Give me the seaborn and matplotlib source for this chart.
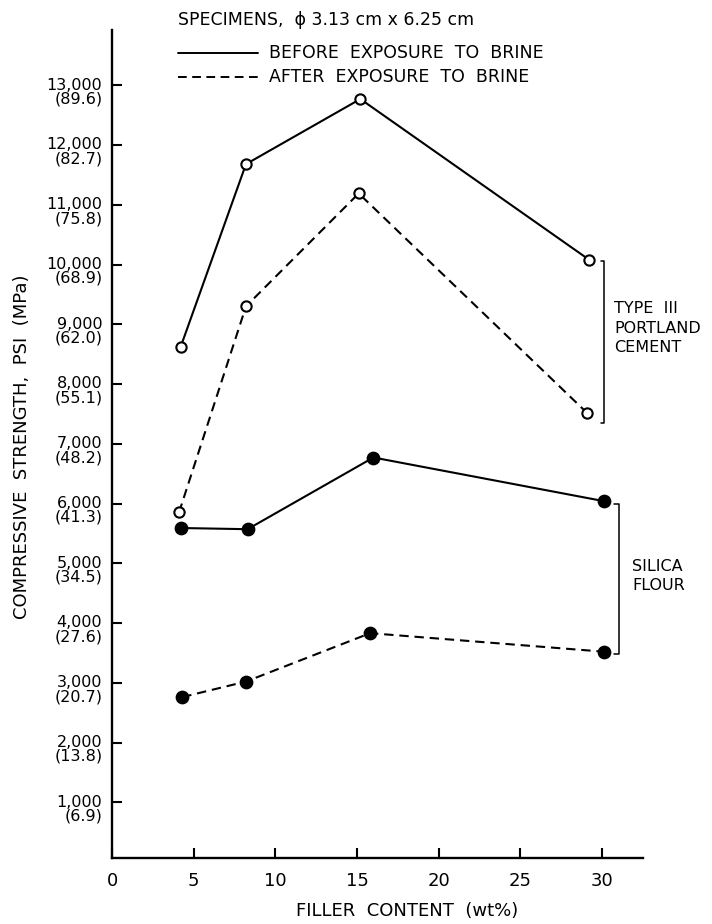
import numpy as np
import pandas as pd
import matplotlib
matplotlib.use("Agg")
import matplotlib.pyplot as plt
import matplotlib.transforms as mtransforms
from matplotlib.lines import Line2D
import seaborn as sns

# ---------------- data ----------------
pc_before_x = [4.2, 8.2, 15.2, 29.2]
pc_before_y = [8620, 11680, 12770, 10080]
pc_after_x = [4.1, 8.2, 15.1, 29.1]
pc_after_y = [5850, 9300, 11190, 7510]
sf_before_x = [4.2, 8.3, 16.0, 30.1]
sf_before_y = [5590, 5570, 6770, 6040]
sf_after_x = [4.3, 8.2, 15.8, 30.1]
sf_after_y = [2760, 3020, 3830, 3520]

x_ticks = [0, 5, 10, 15, 20, 25, 30]
y_ticks = [1000, 2000, 3000, 4000, 5000, 6000, 7000, 8000, 9000, 10000, 11000, 12000, 13000]
y_tick_psi = ["1,000", "2,000", "3,000", "4,000", "5,000", "6,000", "7,000",
              "8,000", "9,000", "10,000", "11,000", "12,000", "13,000"]
y_tick_mpa = ["6.9", "13.8", "20.7", "27.6", "34.5", "41.3", "48.2",
              "55.1", "62.0", "68.9", "75.8", "82.7", "89.6"]

legend_title = "SPECIMENS,  ϕ 3.13 cm x 6.25 cm"
legend_labels = ["BEFORE  EXPOSURE  TO  BRINE", "AFTER  EXPOSURE  TO  BRINE"]
group_labels = ["TYPE  III\nPORTLAND\nCEMENT", "SILICA\nFLOUR"]

# ---------------- styling ----------------
sns.set_style("ticks")
plt.rcParams["font.family"] = ["DejaVu Sans"]
for k in ("text.color", "axes.labelcolor", "xtick.color", "ytick.color", "axes.edgecolor"):
    plt.rcParams[k] = "black"
FS = 12

W, H = 712, 924
fig = plt.figure(figsize=(W / 100, H / 100), dpi=100)
L, R, B, T = 112, 643, 858, 30
ax = fig.add_axes([L / W, 1 - B / H, (R - L) / W, (B - T) / H])

DASH = (0, (4.5, 2.8))
series = [
    (pc_before_x, pc_before_y, "-", "white", 7.4),
    (pc_after_x, pc_after_y, DASH, "white", 7.4),
    (sf_before_x, sf_before_y, "-", "black", 8.4),
    (sf_after_x, sf_after_y, DASH, "black", 8.4),
]
for xs, ys, ls, fc, ms in series:
    df = pd.DataFrame({"x": xs, "y": ys})
    sns.lineplot(data=df, x="x", y="y", ax=ax, color="black", lw=1.5,
                 linestyle=ls, marker="o", markersize=ms,
                 markerfacecolor=fc, markeredgecolor="black",
                 markeredgewidth=1.5, sort=False, estimator=None)

ax.set_xlim(0.15, 32.5)
ax.set_ylim(67, 13925)
sns.despine(ax=ax)
for s in ("left", "bottom"):
    ax.spines[s].set_linewidth(1.7)

ax.set_xticks(x_ticks)
ax.set_xticklabels([str(v) for v in x_ticks], fontsize=FS + 1)
ax.set_yticks(y_ticks)
ax.set_yticklabels([f"{p}\n({m})" for p, m in zip(y_tick_psi, y_tick_mpa)],
                   fontsize=FS - 0.5, linespacing=0.92)
ax.tick_params(axis="both", direction="in", length=7, width=1.5, color="black")
ax.tick_params(axis="y", pad=7)
ax.tick_params(axis="x", pad=10)
off = mtransforms.ScaledTranslation(0, 5.5 / 72, fig.dpi_scale_trans)
for lab in ax.get_yticklabels():
    lab.set_va("top")
    lab.set_transform(lab.get_transform() + off)

ax.set_xlabel("FILLER  CONTENT  (wt%)", fontsize=FS + 1)
ax.xaxis.set_label_coords((407 - L) / (R - L), (B - 902) / (B - T))
ax.set_ylabel("COMPRESSIVE  STRENGTH,  PSI  (MPa)", fontsize=FS + 1)
ax.yaxis.set_label_coords((31 - L) / (R - L), (B - 447) / (B - T))

# ---------------- group brackets ----------------
def bracket(x, y0, y1, dx):
    ax.plot([x - dx, x, x, x - dx], [y0, y0, y1, y1], color="black",
            lw=1.1, clip_on=False)

bracket(30.13, pc_before_y[-1] - 20, pc_after_y[-1] - 160, 0.2)
bracket(31.05, sf_before_y[-1] - 50, sf_after_y[-1] - 40, 0.35)
ax.text(30.74, 8937, group_labels[0], fontsize=FS - 0.5, va="center", ha="left",
        linespacing=1.35)
ax.text(31.84, 4787, group_labels[1], fontsize=FS - 0.5, va="center", ha="left",
        linespacing=1.3)

# ---------------- legend ----------------
fig.text(178 / W, 1 - 20 / H, legend_title, fontsize=FS + 0.5, va="center", ha="left")
for i, (ls, lab) in enumerate(zip(["-", DASH], legend_labels)):
    yy = 1 - (53 + 24 * i) / H
    fig.add_artist(Line2D([178 / W, 258 / W], [yy, yy], transform=fig.transFigure,
                          color="black", lw=1.4, linestyle=ls))
    fig.text(269 / W, yy, lab, fontsize=FS + 0.5, va="center", ha="left")

fig.savefig("out.png", dpi=100)
